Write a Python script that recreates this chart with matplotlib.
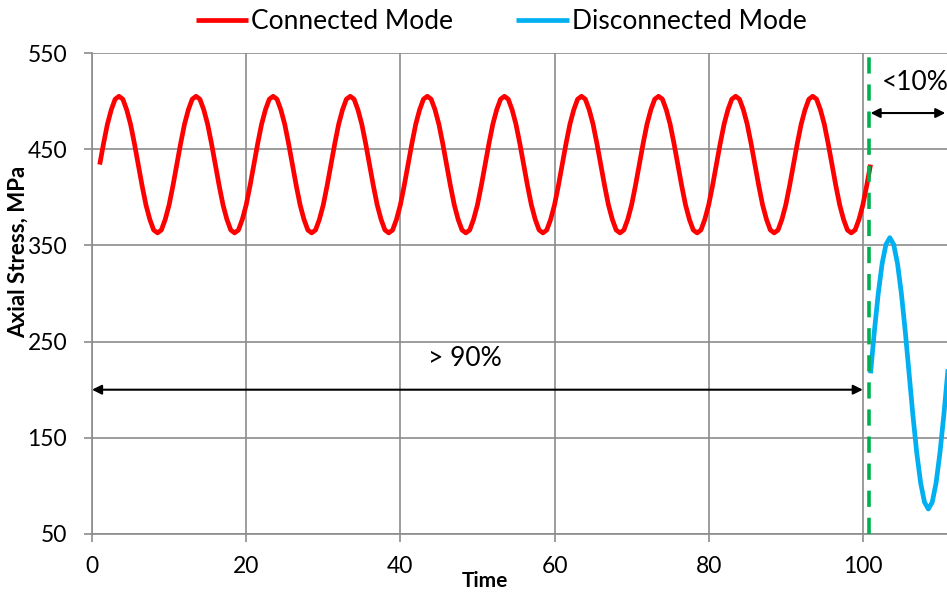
import numpy as np
import matplotlib
matplotlib.use("Agg")
import matplotlib.pyplot as plt

plt.rcParams['font.family'] = ['Lato', 'DejaVu Sans']

# ---- data ----
connected_time_start, connected_time_end, time_step = 1.0, 101.0, 0.5
connected_stress = [
    434, 456, 476, 491, 502, 505, 502, 491, 476, 456, 434, 412, 392, 377, 366, 363, 366, 377, 392, 412,
    434, 456, 476, 491, 502, 505, 502, 491, 476, 456, 434, 412, 392, 377, 366, 363, 366, 377, 392, 412,
    434, 456, 476, 491, 502, 505, 502, 491, 476, 456, 434, 412, 392, 377, 366, 363, 366, 377, 392, 412,
    434, 456, 476, 491, 502, 505, 502, 491, 476, 456, 434, 412, 392, 377, 366, 363, 366, 377, 392, 412,
    434, 456, 476, 491, 502, 505, 502, 491, 476, 456, 434, 412, 392, 377, 366, 363, 366, 377, 392, 412,
    434, 456, 476, 491, 502, 505, 502, 491, 476, 456, 434, 412, 392, 377, 366, 363, 366, 377, 392, 412,
    434, 456, 476, 491, 502, 505, 502, 491, 476, 456, 434, 412, 392, 377, 366, 363, 366, 377, 392, 412,
    434, 456, 476, 491, 502, 505, 502, 491, 476, 456, 434, 412, 392, 377, 366, 363, 366, 377, 392, 412,
    434, 456, 476, 491, 502, 505, 502, 491, 476, 456, 434, 412, 392, 377, 366, 363, 366, 377, 392, 412,
    434, 456, 476, 491, 502, 505, 502, 491, 476, 456, 434, 412, 392, 377, 366, 363, 366, 377, 392, 412,
    434,
]
disconnected_time_start = 101.0
disconnected_stress = [217, 261, 300, 331, 351, 358, 351, 331, 300, 261, 217,
                       173, 134, 103, 83, 76, 83, 103, 134, 173, 217, 261, 300]

switch_time = 100.8
x_ticks = [0, 20, 40, 60, 80, 100, 120]
x_tick_labels = ["0", "20", "40", "60", "80", "100", ""]
y_ticks = [50, 150, 250, 350, 450, 550]
series_labels = ["Connected Mode", "Disconnected Mode"]
x_label = "Time"
y_label = "Axial Stress, MPa"
arrow_big = (0.0, 100.0, 200.0, "> 90%")
arrow_small = (101.0, 110.7, 487.6, "<10%")

t_conn = connected_time_start + time_step * np.arange(len(connected_stress))
t_disc = disconnected_time_start + time_step * np.arange(len(disconnected_stress))

W, H = 947, 595
fig = plt.figure(figsize=(W / 100, H / 100), dpi=100)
left_px, right_px, top_px, bottom_px = 92, 1017, 53, 534
ax = fig.add_axes([left_px / W, 1 - bottom_px / H, (right_px - left_px) / W, (bottom_px - top_px) / H])
ax.set_xlim(0, 120)
ax.set_ylim(50, 550)

grid_c = '#8c8c8c'
ax.set_xticks(x_ticks)
ax.set_xticklabels(x_tick_labels)
ax.set_yticks(y_ticks)
ax.grid(True, color=grid_c, lw=1.2)
ax.set_axisbelow(True)
for s in ['top', 'right']:
    ax.spines[s].set_visible(False)
for s in ['left', 'bottom']:
    ax.spines[s].set_color(grid_c)
    ax.spines[s].set_linewidth(1.2)
ax.tick_params(axis='both', direction='out', length=6, color=grid_c, width=1.2,
               labelsize=16.5)
ax.tick_params(axis='y', pad=12)
ax.tick_params(axis='x', pad=10)

l1, = ax.plot(t_conn, connected_stress, color='#FF0000', lw=3.4, solid_capstyle='butt', zorder=3)
l2, = ax.plot(t_disc, disconnected_stress, color='#00B0F0', lw=3.4, solid_capstyle='butt', zorder=3)
ax.axvline(switch_time, color='#00B050', lw=2.6, ls=(0, (4.5, 3)), zorder=4)

fig.text(485 / W, 1 - 581 / H, x_label, fontsize=15, fontweight='bold', ha='center', va='center')
fig.text(18 / W, 1 - 252 / H, y_label, fontsize=16, fontweight='bold', ha='center', va='center',
         rotation=90)

for (x0, x1, yv, txt) in [arrow_big, arrow_small]:
    ax.annotate('', xy=(x0, yv), xytext=(x1, yv),
                arrowprops=dict(arrowstyle='<|-|>', color='black', lw=1.5,
                                mutation_scale=14, shrinkA=0, shrinkB=0))
ax.text(48.4, 232, arrow_big[3], fontsize=19, ha='center', va='center')
ax.text(102.5, 519, arrow_small[3], fontsize=19, ha='left', va='center')

fig.legend([l1, l2], series_labels, loc='upper center', bbox_to_anchor=(0.529, 1.025),
           ncol=2, frameon=False, fontsize=19, handlelength=2.0, handletextpad=0.1,
           columnspacing=2.4)

fig.savefig('out.png', dpi=100)
